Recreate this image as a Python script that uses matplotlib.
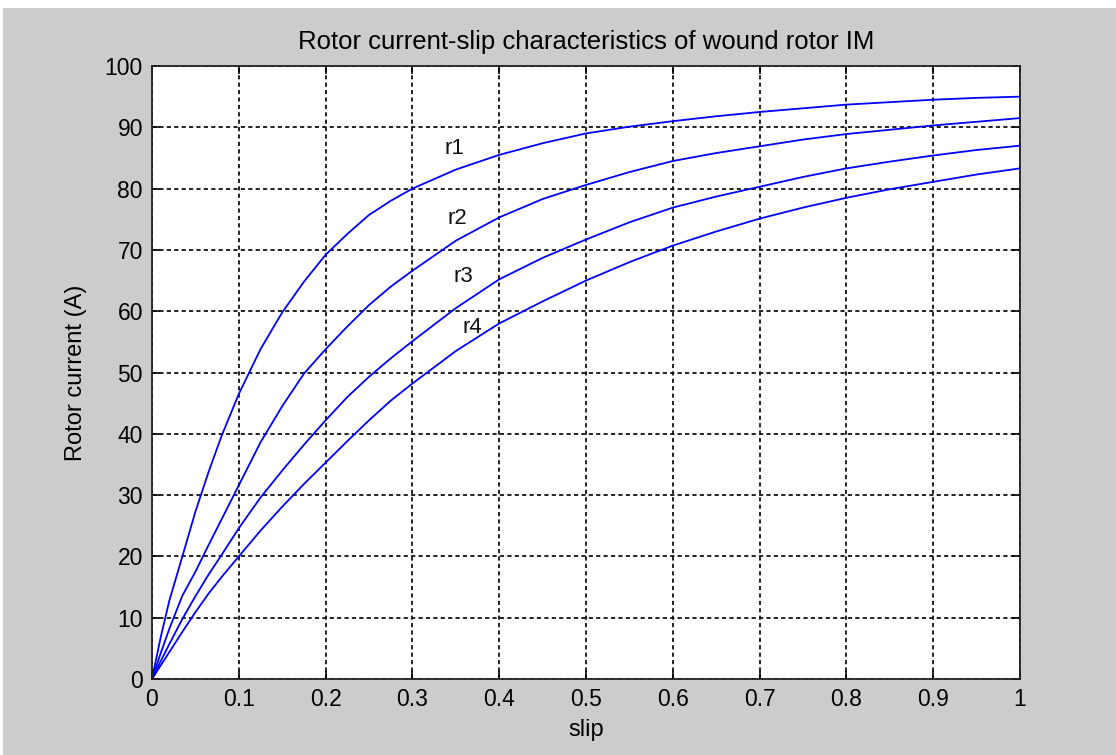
import matplotlib
matplotlib.use("Agg")
import matplotlib.pyplot as plt
from matplotlib.patches import Rectangle

# slip values and rotor currents (A)
slip = [0, 0.01, 0.02, 0.035, 0.05, 0.065, 0.08, 0.1, 0.125, 0.15, 0.175, 0.2, 0.225, 0.25,
        0.275, 0.3, 0.35, 0.4, 0.45, 0.5, 0.55, 0.6, 0.65, 0.7, 0.75, 0.8, 0.85, 0.9, 0.95, 1.0]
r1 = [0, 6.8, 12.8, 20.0, 27.3, 33.7, 39.6, 46.5, 53.8, 59.8, 64.8, 69.2, 72.6, 75.7,
      78.0, 80.0, 83.1, 85.5, 87.4, 89.0, 90.1, 91.0, 91.8, 92.5, 93.1, 93.7, 94.1, 94.5, 94.8, 95.0]
r2 = [0, 4.2, 8.2, 13.6, 17.5, 21.8, 26.0, 31.6, 38.6, 44.5, 49.8, 53.8, 57.5, 61.0,
      64.0, 66.6, 71.5, 75.3, 78.3, 80.6, 82.7, 84.5, 85.8, 86.9, 88.0, 88.9, 89.6, 90.3, 90.9, 91.5]
r3 = [0, 2.9, 5.7, 9.8, 13.5, 17.0, 20.2, 24.6, 29.6, 34.0, 38.2, 42.2, 46.0, 49.3,
      52.3, 55.1, 60.5, 65.2, 68.7, 71.7, 74.5, 76.9, 78.7, 80.3, 81.9, 83.3, 84.4, 85.4, 86.3, 87.0]
r4 = [0, 2.2, 4.4, 7.7, 10.9, 13.9, 16.6, 20.0, 24.2, 28.1, 31.8, 35.3, 38.8, 42.2,
      45.4, 48.2, 53.5, 58.0, 61.6, 65.0, 68.0, 70.7, 73.0, 75.1, 76.9, 78.5, 79.9, 81.1, 82.3, 83.3]

curve_names = ["r1", "r2", "r3", "r4"]
label_slip = [0.349, 0.352, 0.359, 0.369]
label_current = [86.5, 75.1, 65.7, 57.3]

xticks = [0, 0.1, 0.2, 0.3, 0.4, 0.5, 0.6, 0.7, 0.8, 0.9, 1]
xticklabels = ["0", "0.1", "0.2", "0.3", "0.4", "0.5", "0.6", "0.7", "0.8", "0.9", "1"]
yticks = [0, 10, 20, 30, 40, 50, 60, 70, 80, 90, 100]

plt.rcParams['font.family'] = ['Liberation Sans', 'DejaVu Sans']

fig = plt.figure(figsize=(11.16, 7.55), dpi=100)
fig.patch.set_facecolor('white')
# grey matlab window background, thin white strip on top/left
fig.patches.append(Rectangle((3 / 1116, 0), 1, 1 - 8 / 755, transform=fig.transFigure,
                             facecolor='#cccccc', edgecolor='none', zorder=-10))

ax = fig.add_axes([152 / 1116, 1 - 679 / 755, (1020 - 152) / 1116, (679 - 66) / 755])
ax.set_facecolor('white')

for ys in [r1, r2, r3, r4]:
    ax.plot(slip, ys, color='#0000ff', linewidth=1.3)

for name, sx, sy in zip(curve_names, label_slip, label_current):
    ax.text(sx, sy, name, fontsize=16, ha='center', va='center', color='#111111')

ax.set_xlim(0, 1)
ax.set_ylim(0, 100)
ax.set_xticks(xticks)
ax.set_xticklabels(xticklabels)
ax.set_yticks(yticks)
ax.tick_params(direction='in', top=True, right=True, length=6, width=1.2,
               labelsize=16.5, pad=6.5, labelcolor='black')

ax.grid(True, color='#111111', linestyle=(0, (2.3, 1.8)), linewidth=1.3)
for sp in ax.spines.values():
    sp.set_linewidth(1.3)
    sp.set_color('#222222')

ax.set_title("Rotor current-slip characteristics of wound rotor IM", fontsize=18.5, pad=12,
             color='black')
ax.set_xlabel("slip", fontsize=17, labelpad=6, color='black')
ax.set_ylabel("Rotor current (A)", fontsize=17, labelpad=13, color='black')

fig.savefig("out.png", dpi=100, facecolor=fig.get_facecolor())
